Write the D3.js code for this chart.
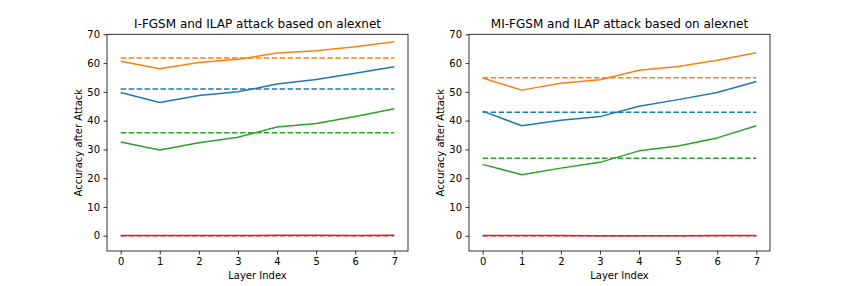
<!DOCTYPE html>
<html>
<head>
<meta charset="utf-8">
<script src="https://d3js.org/d3.v7.min.js"></script>
<style>
body { margin: 0; background: #fff; }
text { font-family: "DejaVu Sans", sans-serif; fill: #000; }
</style>
</head>
<body>
<script>

// data
let layers = [0, 1, 2, 3, 4, 5, 6, 7];
let yTicks = [0, 10, 20, 30, 40, 50, 60, 70];
let colors = ["#1f77b4", "#ff7f0e", "#2ca02c", "#d62728"];

let titles = ["I-FGSM and ILAP attack based on alexnet", "MI-FGSM and ILAP attack based on alexnet"];

// left panel: ILAP per layer (solid) and baseline (dashed)
let leftBlue   = [49.8, 46.3, 48.7, 50.0, 52.7, 54.3, 56.5, 58.7];
let leftOrange = [60.6, 58.0, 60.2, 61.3, 63.5, 64.3, 65.7, 67.4];
let leftGreen  = [32.6, 29.8, 32.3, 34.2, 37.8, 39.0, 41.4, 44.1];
let leftRed    = [0.05, 0.05, 0.05, 0.05, 0.15, 0.15, 0.1, 0.15];
let leftBase   = [51.0, 61.8, 35.8, 0.0];

// right panel
let rightBlue   = [43.3, 38.2, 40.1, 41.4, 45.0, 47.3, 49.8, 53.6];
let rightOrange = [54.8, 50.6, 53.0, 54.2, 57.5, 58.8, 61.0, 63.6];
let rightGreen  = [24.8, 21.2, 23.5, 25.5, 29.5, 31.2, 34.0, 38.2];
let rightRed    = [0.1, 0.1, 0.05, 0.0, 0.0, 0.0, 0.1, 0.1];
let rightBase   = [42.9, 54.9, 26.9, 0.0];

let width = 856, height = 286;
let svg = d3.select("body").append("svg").attr("width", width).attr("height", height);

let panels = [
  {left: 107, title: titles[0], series: [leftBlue, leftOrange, leftGreen, leftRed], base: leftBase},
  {left: 469, title: titles[1], series: [rightBlue, rightOrange, rightGreen, rightRed], base: rightBase}
];

let pw = 301, axTop = 34.3, axBottom = 251;

panels.forEach(function(p) {
  let x = d3.scaleLinear().domain([-0.35, 7.35]).range([p.left, p.left + pw]);
  let y = d3.scaleLinear().domain([-5.3, 70]).range([axBottom, axTop]);

  let g = svg.append("g");

  let line = d3.line().x(function(d, i) { return x(layers[i]); }).y(function(d) { return y(d); });

  p.series.forEach(function(s, k) {
    g.append("path").datum(s)
      .attr("d", line)
      .attr("fill", "none")
      .attr("stroke", colors[k])
      .attr("stroke-width", 1.5)
      .attr("stroke-linejoin", "round");
    g.append("line")
      .attr("x1", x(layers[0])).attr("x2", x(layers[layers.length - 1]))
      .attr("y1", y(p.base[k])).attr("y2", y(p.base[k]))
      .attr("stroke", colors[k])
      .attr("stroke-width", 1.5)
      .attr("stroke-dasharray", "5.55,2.4");
  });

  // axes
  let xa = g.append("g").attr("transform", "translate(0," + axBottom + ")")
    .call(d3.axisBottom(x).tickValues(layers).tickSize(3.5).tickPadding(3.5).tickFormat(d3.format("d")));
  let ya = g.append("g").attr("transform", "translate(" + p.left + ",0)")
    .call(d3.axisLeft(y).tickValues(yTicks).tickSize(3.5).tickPadding(3.5).tickFormat(d3.format("d")));
  [xa, ya].forEach(function(a) {
    a.select(".domain").remove();
    a.selectAll("line").attr("stroke", "#000").attr("stroke-width", 0.8);
    a.selectAll("text").attr("font-size", 10).attr("font-family", "DejaVu Sans").attr("fill", "#000");
  });

  g.append("rect")
    .attr("x", p.left).attr("y", axTop).attr("width", pw).attr("height", axBottom - axTop)
    .attr("fill", "none").attr("stroke", "#000").attr("stroke-width", 0.8);

  g.append("text")
    .attr("x", p.left + pw / 2).attr("y", axTop - 6)
    .attr("text-anchor", "middle").attr("font-size", 12)
    .text(p.title);

  g.append("text")
    .attr("x", p.left + pw / 2).attr("y", axBottom + 28)
    .attr("text-anchor", "middle").attr("font-size", 10)
    .text("Layer Index");

  g.append("text")
    .attr("transform", "translate(" + (p.left - 25) + "," + ((axTop + axBottom) / 2) + ") rotate(-90)")
    .attr("text-anchor", "middle").attr("font-size", 10)
    .text("Accuracy after Attack");
});

</script>
</body>
</html>
